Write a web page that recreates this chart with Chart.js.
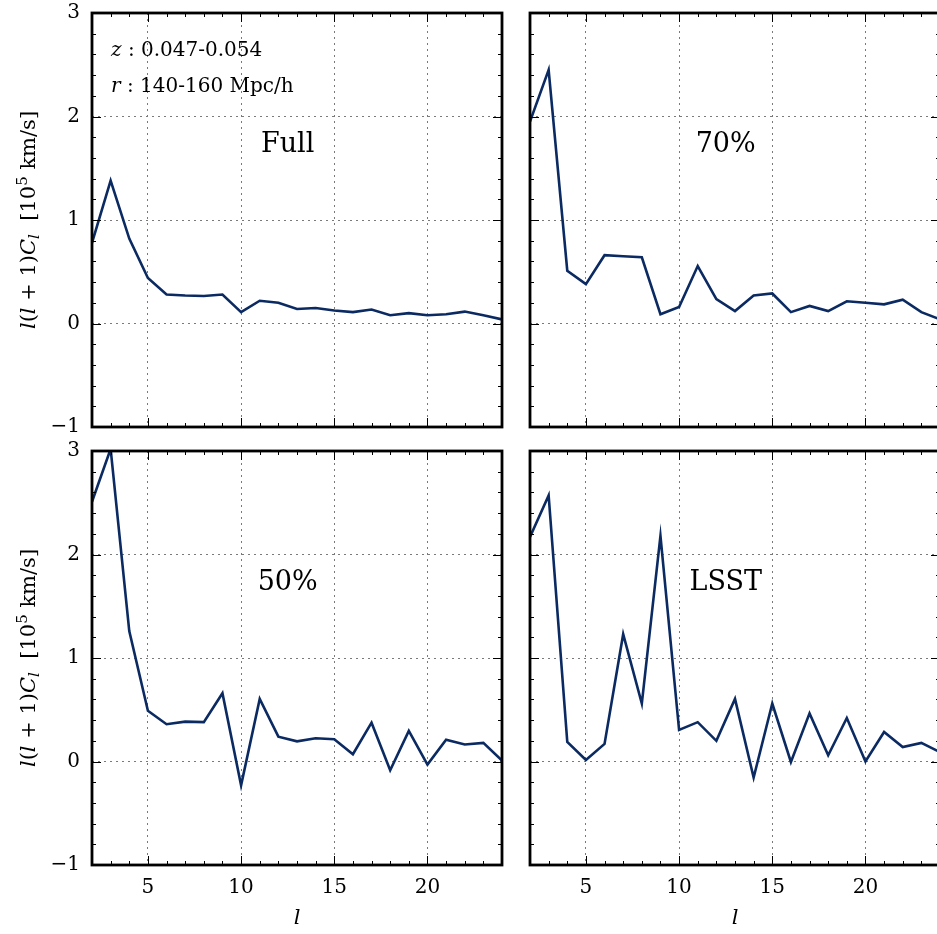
<!DOCTYPE html>
<html>
<head>
<meta charset="utf-8">
<script src="https://cdn.jsdelivr.net/npm/chart.js@4.4.0/dist/chart.umd.min.js"></script>
<style>
  html, body { margin: 0; padding: 0; background: #fff; overflow: hidden; }
  #wrap { position: relative; width: 940px; height: 934px; }
  #wrap canvas { position: absolute; left: 0; top: 0; }
</style>
</head>
<body>
<div id="wrap">
  <canvas id="full" width="940" height="934"></canvas>
  <canvas id="cut70" width="940" height="934"></canvas>
  <canvas id="cut50" width="940" height="934"></canvas>
  <canvas id="lsst" width="940" height="934"></canvas>
</div>
<script>
// multipoles
const ell = [2, 3, 4, 5, 6, 7, 8, 9, 10, 11, 12, 13, 14, 15, 16, 17, 18, 19, 20, 21, 22, 23, 24];

// l(l+1)C_l in units of 1e5 km/s, one array per sky coverage
const fullSky = [0.78, 1.38, 0.82, 0.44, 0.28, 0.27, 0.265, 0.28, 0.11, 0.22, 0.20, 0.14, 0.15,
                 0.125, 0.11, 0.135, 0.08, 0.10, 0.08, 0.09, 0.115, 0.08, 0.04];
const sky70 = [1.95, 2.45, 0.51, 0.38, 0.66, 0.65, 0.64, 0.09, 0.16, 0.555, 0.235, 0.12, 0.27,
               0.29, 0.11, 0.17, 0.12, 0.215, 0.20, 0.185, 0.23, 0.11, 0.04];
const sky50 = [2.51, 3.02, 1.26, 0.49, 0.36, 0.385, 0.38, 0.66, -0.23, 0.605, 0.24, 0.195, 0.225,
               0.215, 0.07, 0.375, -0.085, 0.295, -0.03, 0.21, 0.165, 0.18, 0.01];
const skyLsst = [2.17, 2.57, 0.19, 0.015, 0.17, 1.23, 0.56, 2.18, 0.305, 0.38, 0.20, 0.605, -0.155,
                 0.56, -0.005, 0.465, 0.06, 0.42, 0.0, 0.285, 0.14, 0.18, 0.09];

const panelNames = ['Full', '70%', '50%', 'LSST'];
const xTicks = [5, 10, 15, 20];
const yTicks = [-1, 0, 1, 2, 3];
const notes = [['z', ' : 0.047-0.054'], ['r', ' : 140-160 Mpc/h']];

const lineColor = '#0b2a62';
const serif = '"DejaVu Serif", "Liberation Serif", serif';
const W = 940, H = 934;

// draw a run of [text, italic, scale, shift] pieces, left to right
function drawRuns(ctx, runs, size, x, y, center) {
  const fontOf = r => (r[1] ? 'italic ' : '') + Math.round(size * (r[2] || 1)) + 'px ' + serif;
  const widths = runs.map(r => { ctx.font = fontOf(r); return ctx.measureText(r[0]).width; });
  let cx = center ? x - widths.reduce((a, b) => a + b, 0) / 2 : x;
  runs.forEach((r, i) => {
    ctx.font = fontOf(r);
    ctx.fillText(r[0], cx, y + (r[3] || 0));
    cx += widths[i];
  });
}

const yTitle = [
  ['l', true], ['(', false], ['l', true], [' + 1)', false], ['C', true], ['l', true, 0.7, 4],
  ['  [10', false], ['5', false, 0.7, -8], [' km/s]', false]
];

function panelPlugin(name, opts) {
  return {
    id: 'panelDecor',
    afterDatasetsDraw(chart) {
      const { ctx, chartArea: a, scales: { x, y } } = chart;
      ctx.save();
      ctx.strokeStyle = '#000';
      ctx.lineWidth = 1;
      ctx.beginPath();
      // inward ticks on all four sides: major at labelled values, minor in between
      for (let v = 2; v <= 24; v++) {
        const px = Math.round(x.getPixelForValue(v)) + 0.5;
        const len = xTicks.includes(v) ? 9 : 4;
        ctx.moveTo(px, a.bottom); ctx.lineTo(px, a.bottom - len);
        ctx.moveTo(px, a.top); ctx.lineTo(px, a.top + len);
      }
      for (let k = 0; k <= 20; k++) {
        const v = -1 + k * 0.2;
        const py = Math.round(y.getPixelForValue(v)) + 0.5;
        const len = k % 5 === 0 ? 9 : 4;
        ctx.moveTo(a.left, py); ctx.lineTo(a.left + len, py);
        ctx.moveTo(a.right, py); ctx.lineTo(a.right - len, py);
      }
      ctx.stroke();
      ctx.lineWidth = 2.8;
      ctx.strokeRect(a.left, a.top, a.right - a.left, a.bottom - a.top);

      ctx.fillStyle = '#000';
      ctx.textBaseline = 'middle';
      ctx.textAlign = 'center';
      ctx.font = '27px ' + serif;
      ctx.fillText(name, x.getPixelForValue(12.5), y.getPixelForValue(1.72));

      ctx.textAlign = 'left';
      ctx.textBaseline = 'alphabetic';
      if (opts.notes) {
        notes.forEach((n, i) => {
          drawRuns(ctx, [[n[0], true], [n[1], false]], 20, a.left + 19, a.top + 43 + i * 36, false);
        });
      }
      if (opts.yTitle) {
        ctx.save();
        ctx.translate(a.left - 57, (a.top + a.bottom) / 2);
        ctx.rotate(-Math.PI / 2);
        drawRuns(ctx, yTitle, 21, 0, 0, true);
        ctx.restore();
      }
      if (opts.xTitle) {
        ctx.textAlign = 'center';
        ctx.font = 'italic 21px ' + serif;
        ctx.fillText('l', (a.left + a.right) / 2, a.bottom + 59);
      }
      ctx.restore();
    }
  };
}

function makePanel(id, idx, values, box, opts) {
  const yAxisW = opts.yLabels ? box[0] : 0;
  const xAxisH = opts.xLabels ? H - box[3] : 0;
  return new Chart(document.getElementById(id), {
    type: 'line',
    data: {
      datasets: [{
        data: ell.map((l, i) => ({ x: l, y: values[i] })),
        borderColor: lineColor,
        borderWidth: 2.6,
        pointRadius: 0,
        tension: 0,
        fill: false
      }]
    },
    options: {
      responsive: false,
      animation: false,
      devicePixelRatio: 1,
      events: [],
      layout: {
        padding: { left: box[0] - yAxisW, top: box[1], right: W - box[2], bottom: H - box[3] - xAxisH }
      },
      plugins: { legend: { display: false }, tooltip: { enabled: false } },
      scales: {
        x: {
          type: 'linear',
          min: 2,
          max: 24,
          afterBuildTicks: s => { s.ticks = xTicks.map(v => ({ value: v })); },
          afterFit: s => { s.height = xAxisH; s.paddingLeft = 0; s.paddingRight = 0; },
          grid: { color: '#7a7a7a', lineWidth: 1, drawTicks: false },
          border: { display: false, dash: [2, 4] },
          ticks: { display: opts.xLabels, padding: 11, color: '#000', font: { family: serif, size: 20 } }
        },
        y: {
          type: 'linear',
          min: -1,
          max: 3,
          afterBuildTicks: s => { s.ticks = yTicks.map(v => ({ value: v })); },
          afterFit: s => { s.width = yAxisW; s.paddingTop = 0; s.paddingBottom = 0; },
          grid: { color: '#7a7a7a', lineWidth: 1, drawTicks: false },
          border: { display: false, dash: [2, 4] },
          ticks: {
            display: opts.yLabels,
            padding: 12,
            color: '#000',
            font: { family: serif, size: 20 },
            callback: v => (v < 0 ? '\u2212' + Math.abs(v) : String(v))
          }
        }
      }
    },
    plugins: [panelPlugin(panelNames[idx], opts)]
  });
}

makePanel('full', 0, fullSky, [92, 13, 502, 427], { notes: true, yTitle: true, yLabels: true, xLabels: false });
makePanel('cut70', 1, sky70, [530, 13, 940, 427], { yLabels: false, xLabels: false });
makePanel('cut50', 2, sky50, [92, 451, 502, 865], { yTitle: true, yLabels: true, xLabels: true, xTitle: true });
makePanel('lsst', 3, skyLsst, [530, 451, 940, 865], { yLabels: false, xLabels: true, xTitle: true });
</script>
</body>
</html>
